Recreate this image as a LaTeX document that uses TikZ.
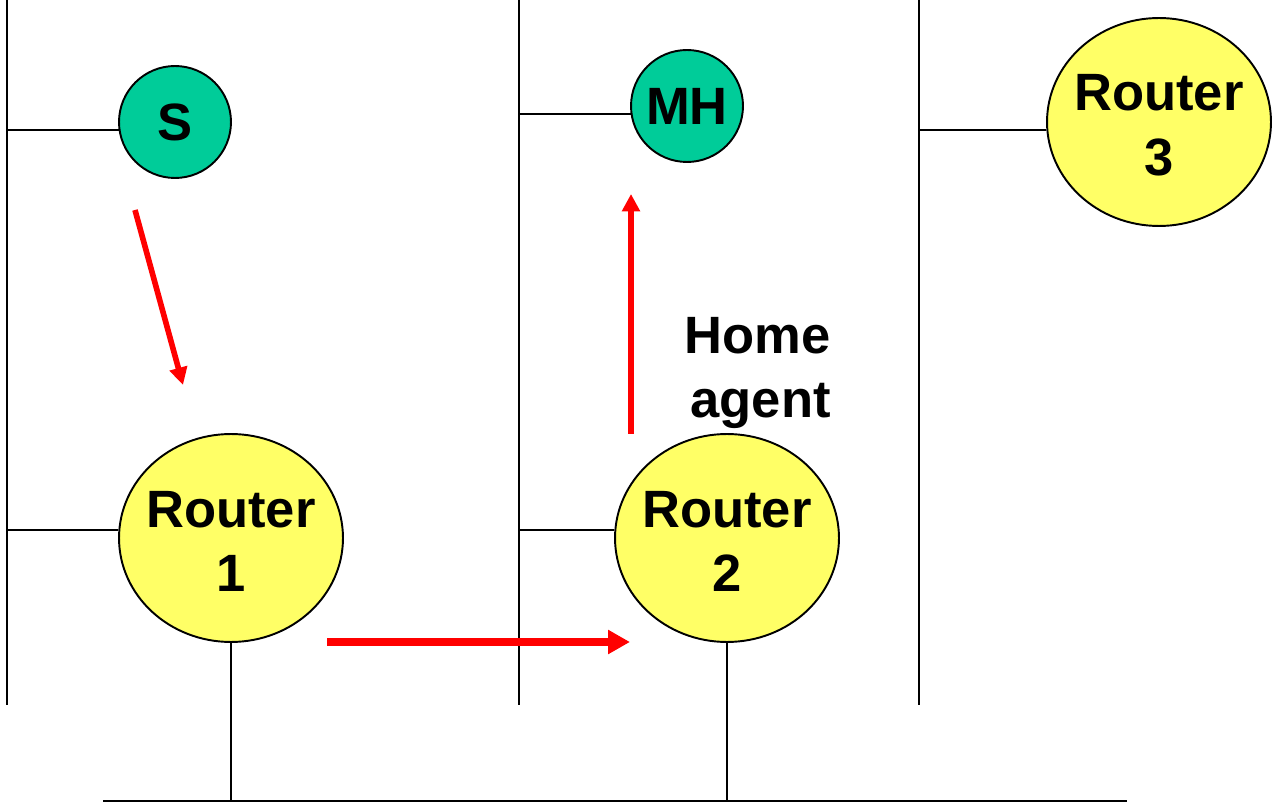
\documentclass[tikz,border=0pt]{standalone}
\usepackage{fontspec}
\setmainfont{Liberation Sans}
\usetikzlibrary{shapes.geometric,arrows.meta}
\definecolor{hostgreen}{HTML}{00CC99}
\definecolor{routeryellow}{HTML}{FFFF66}
\tikzset{
    net label/.style={
        font=\bfseries\fontsize{29.9}{36.9}\selectfont,
        align=center, inner sep=0pt
    },
    host/.style={net label,
        circle, draw, line width=1.1pt,
        fill=hostgreen,
        minimum size=2.24cm
    },
    router/.style={
        ellipse, draw, line width=1.1pt,
        fill=routeryellow, inner sep=0pt,
        minimum width=4.48cm, minimum height=4.16cm,
        label={[net label,yshift=-0.07cm]center:{Router\\#1}}
    },
    lan/.style={line width=1.1pt},
}
\tikzstyle{route}   = [red, -{Triangle[length=0.35cm,width=0.35cm]}]

\begin{document}
\begin{tikzpicture}[x=0.02cm,y=-0.02cm]
		\useasboundingbox (0,0) rectangle (1274,803);
		\foreach \name/\x in {lanA/7,lanB/519,lanC/919}{
		\coordinate (top of \name) at (\x,0);
		\coordinate (end of \name) at (\x,705);
		\draw[lan] (top of \name) -- (end of \name);
		}
		\coordinate (bb west) at (103,801);
		\coordinate (bb east) at (1127,801);
		\draw[line width=1.7pt] (bb west) -- (bb east);

		\node[host] (S) at (175,122) {S};
		\node[host] (MH) at (687,106) {MH};
		\node[router=1] (R1) at (231,538) {};
		\node[router=2] (R2) at (727,538) {};
		\node[router=3] (R3) at (1159,122) {};
		\node[net label,align=right,anchor=east] (HA) at (831,373) {Home\\agent};

		\draw[lan] (S.188) -- (S.188 -| top of lanA);
		\draw[lan] (R1.176) -- (R1.176 -| top of lanA);
		\draw[lan] (MH.188) -- (MH.188 -| top of lanB);
		\draw[lan] (R2.176) -- (R2.176 -| top of lanB);
		\draw[lan] (R3.184) -- (R3.184 -| top of lanC);
		\draw[lan] (R1.south) -- (R1.south |- bb west);
		\draw[lan] (R2.south) -- (R2.south |- bb west);

		\coordinate (p1) at (135,210);
		\coordinate (p2) at (183,385);
		\coordinate (p3) at (327,642);
		\coordinate (p4) at (630,642);
		\coordinate (p5) at (631,434);
		\coordinate (p6) at (631,194);
		\draw[route,line width=3.2pt] (p1) -- (p2);
		\draw[route,line width=4.1pt,-{Triangle[length=0.44cm,width=0.46cm]}] (p3) -- (p4);
		\draw[route,line width=3pt] (p5) -- (p6);
	\end{tikzpicture}
\end{document}
